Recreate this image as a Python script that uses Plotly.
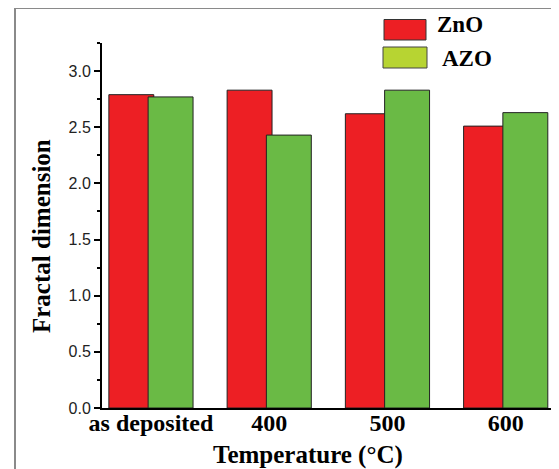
import plotly.graph_objects as go

categories = ["as deposited", "400", "500", "600"]
zno_values = [2.79, 2.83, 2.62, 2.51]
azo_values = [2.77, 2.43, 2.83, 2.63]
series_names = ["ZnO", "AZO"]

# the page body adds an 8px margin; build the figure so the picture lines up
OFF = 8
WIN_W, WIN_H = 559, 469
W, H = WIN_W - OFF, WIN_H - OFF
L, R, T, B = 102 - OFF, WIN_W - 553, 43 - OFF, WIN_H - 408
PW = W - L - R
PH = H - T - B


def px(x):
    # x: pixel in window coordinates
    return (x - OFF - L) / PW


def py(y):
    return (H - B - (y - OFF)) / PH


SERIF = "Liberation Serif, Times New Roman, serif"
RED = "#ed1f24"
GREEN = "#6aba45"
LEG_GREEN = "#b7d432"

fig = go.Figure()
fig.add_trace(go.Bar(x=categories, y=zno_values, name=series_names[0],
                     marker=dict(color=RED, line=dict(color="#222222", width=1)),
                     offset=-0.356, width=0.38, showlegend=False))
fig.add_trace(go.Bar(x=categories, y=azo_values, name=series_names[1],
                     marker=dict(color=GREEN, line=dict(color="#222222", width=1)),
                     offset=-0.024, width=0.38, showlegend=False))

shapes = [
    # image frame
    dict(type="line", xref="paper", yref="paper", x0=px(15), x1=px(15), y0=py(8), y1=py(WIN_H + 5),
         line=dict(color="#8a8a8a", width=2)),
    dict(type="line", xref="paper", yref="paper", x0=px(15), x1=px(WIN_W + 5), y0=py(8), y1=py(8),
         line=dict(color="#8a8a8a", width=2)),
    # legend patches
    dict(type="rect", xref="paper", yref="paper", x0=px(384), x1=px(426), y0=py(19.5), y1=py(40),
         fillcolor=RED, line=dict(color="#333333", width=1)),
    dict(type="rect", xref="paper", yref="paper", x0=px(383), x1=px(427), y0=py(47), y1=py(68),
         fillcolor=LEG_GREEN, line=dict(color="#444444", width=1)),
]

annotations = [
    dict(text="<b>ZnO</b>", xref="paper", yref="paper", x=px(435), y=py(25), xanchor="left",
         yanchor="middle", showarrow=False, font=dict(family=SERIF, size=23, color="#000000")),
    dict(text="<b>AZO</b>", xref="paper", yref="paper", x=px(440), y=py(58), xanchor="left",
         yanchor="middle", showarrow=False, font=dict(family=SERIF, size=23, color="#000000")),
    dict(text="<b>Fractal dimension</b>", xref="paper", yref="paper", x=px(42), y=py(236),
         xanchor="center", yanchor="middle", textangle=-90, showarrow=False,
         font=dict(family=SERIF, size=25, color="#000000")),
    dict(text="<b>Temperature (°C)</b>", xref="paper", yref="paper", x=px(308), y=py(455),
         xanchor="center", yanchor="middle", showarrow=False,
         font=dict(family=SERIF, size=25, color="#000000")),
]

fig.update_layout(
    width=W, height=H,
    margin=dict(l=L, r=R, t=T, b=B),
    paper_bgcolor="white", plot_bgcolor="white",
    barmode="overlay",
    shapes=shapes,
    annotations=annotations,
    showlegend=False,
)
fig.update_xaxes(
    type="category", range=[-0.414, 3.40],
    showline=True, linecolor="#000000", linewidth=2,
    ticks="", showgrid=False, zeroline=False,
    tickfont=dict(family=SERIF, size=24, color="#000000"),
    ticktext=["<b>%s</b>" % c for c in categories], tickvals=categories,
    ticklabelstandoff=-8,
)
fig.update_yaxes(
    range=[0, 3.25], tick0=0, dtick=0.5, tickformat=".1f",
    showline=True, linecolor="#000000", linewidth=2,
    ticks="outside", ticklen=6, tickwidth=1.5, tickcolor="#000000",
    minor=dict(ticks="outside", ticklen=3, tickwidth=1.5, tickcolor="#000000", dtick=0.25, tick0=0),
    showgrid=False, zeroline=False,
    tickfont=dict(family="Liberation Sans, Arial, sans-serif", size=16, color="#222222"),
)

fig.write_html("out.html")
